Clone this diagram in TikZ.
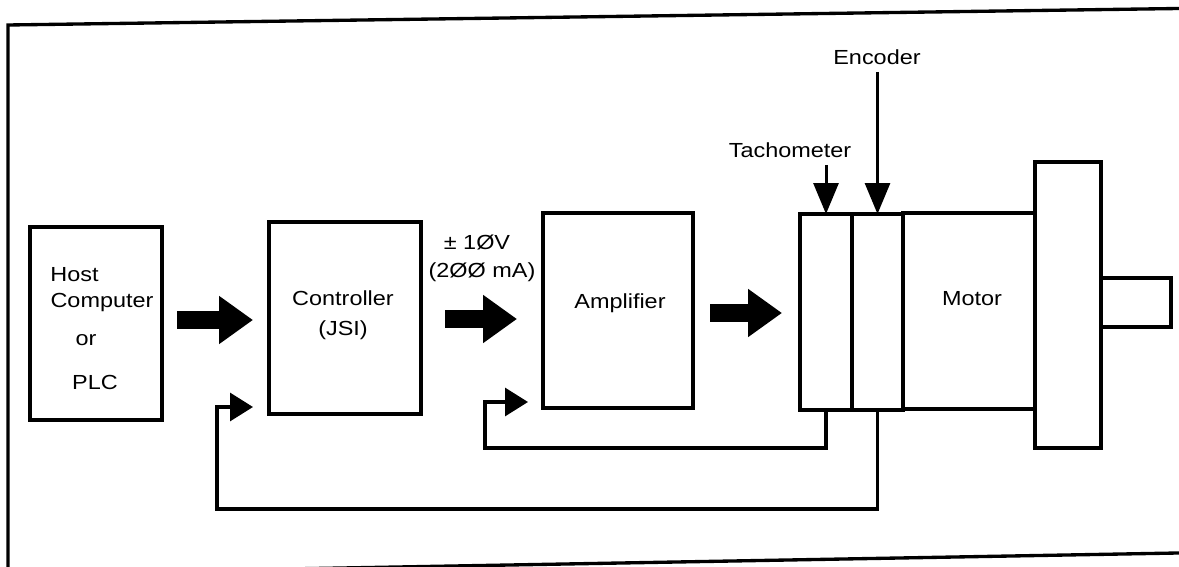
\documentclass[tikz,border=0pt]{standalone}
\usepackage{fontspec}
\setmainfont{Liberation Sans}
\newfontfamily\labfont[FakeStretch=1.15]{Liberation Sans}
\usetikzlibrary{arrows.meta}
\newcommand\boxat[5]{\node[box, minimum width={(#4-#2)*0.02cm}, minimum height={(#5-#3)*0.02cm}] (#1) at ({(#2+#4)/2},{(#3+#5)/2}) {};}
\begin{document}
\begin{tikzpicture}[x=0.02cm, y=-0.02cm,
  box/.style={draw, line width=1.9pt, inner sep=0pt, outer sep=0pt},
  lab/.style={font=\labfont\fontsize{11.6}{13}\selectfont, inner sep=0pt},
  fat/.style={line width=0.37cm, -{Triangle[width=0.92cm, length=0.68cm]}},
  fb/.style={line width=1.8pt, -{Triangle[width=0.56cm, length=0.46cm]}},
  down/.style={line width=1.7pt, -{Triangle[width=0.5cm, length=0.62cm]}},
  frame/.style={line width=1.9pt}]
\useasboundingbox (0,0) rectangle (1179,567);
% outer frame (scanned, slightly tilted, cropped)
\begin{scope}
  \clip (0,0) rectangle (1179,567);
  \draw[frame] (1200,8.2) -- (8,25) -- (8,600);
  \draw[frame] (8,574) -- (1200,552.6);
\end{scope}
% blocks
\boxat{host}{30}{227}{162}{420}
\boxat{ctrl}{269}{222}{421}{414}
\boxat{amp}{543}{213}{693}{408}
\boxat{tach}{800}{214}{852}{410}
\boxat{enc}{852}{214}{903}{410}
\boxat{motor}{903}{213}{1035}{409}
\boxat{flange}{1035}{162}{1101}{448}
\boxat{shaft}{1101}{278}{1171}{327}
% labels
\node[lab, anchor=west] (lhost) at (50,275) {Host};
\node[lab] (lcomp) at (102,303) {Computer};
\node[lab] (lor) at (86,340) {or};
\node[lab] (lplc) at (95,382) {PLC};
\node[lab] (lctrl) at (343,298) {Controller};
\node[lab] (ljsi) at (343,330) {(JSI)};
\node[lab] (lvolt) at (477,242) {± 1ØV};
\node[lab] (lma) at (482,272) {(2ØØ mA)};
\node[lab] (lamp) at (620,303) {Amplifier};
\node[lab] (lmotor) at (972,299) {Motor};
\node[lab] (ltach) at (790,150) {Tachometer};
\node[lab] (lenc) at (877,57) {Encoder};
% fat signal arrows
\coordinate (f1a) at (177,320); \coordinate (f1b) at (253,320);
\coordinate (f2a) at (445,319); \coordinate (f2b) at (517,319);
\coordinate (f3a) at (710,313); \coordinate (f3b) at (782,313);
\draw[fat] (f1a) -- (f1b);
\draw[fat] (f2a) -- (f2b);
\draw[fat] (f3a) -- (f3b);
% sensor pointers
\coordinate (ta) at (826,165);
\coordinate (ea) at (877.5,72);
\draw[down] (ta) -- (tach.north);
\draw[down] (ea) -- (enc.north);
% feedback loops
\coordinate (t1) at (485,448); \coordinate (t2) at (528,402);
\draw[fb] (tach.south) |- (t1) |- (t2);
\coordinate (e1) at (217,509); \coordinate (e2) at (253,407);
\draw[fb] (enc.south) |- (e1) |- (e2);
\end{tikzpicture}
\end{document}
